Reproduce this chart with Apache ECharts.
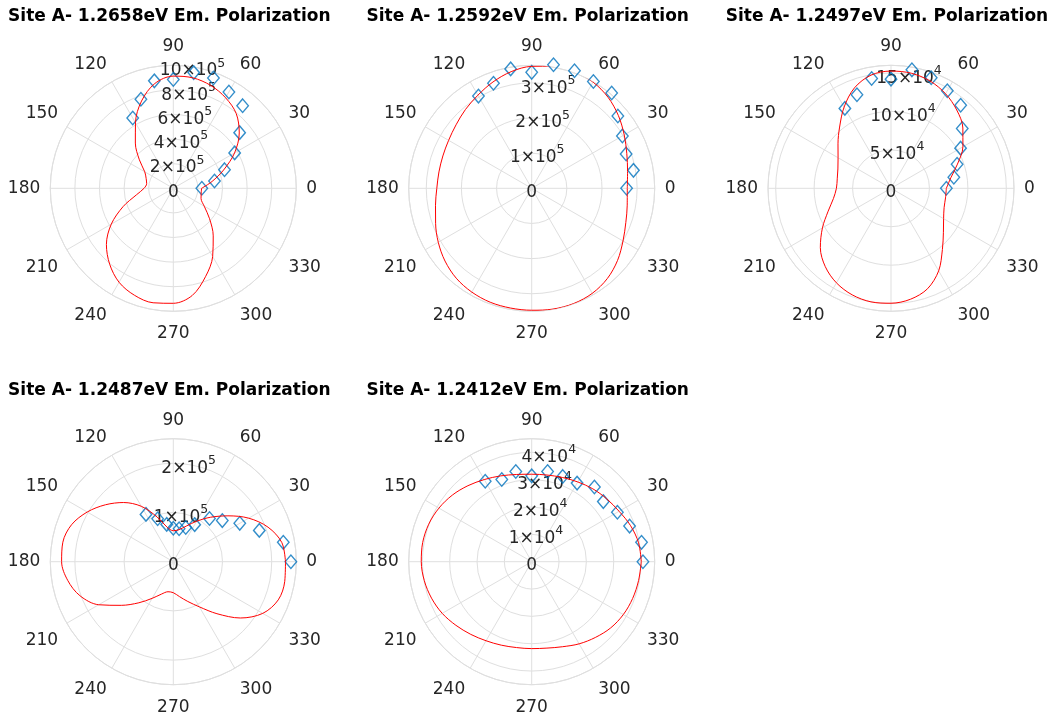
<!DOCTYPE html>
<html>
<head>
<meta charset="utf-8">
<script src="https://cdn.jsdelivr.net/npm/echarts@6/dist/echarts.min.js"></script>
<style>
  html, body { margin: 0; padding: 0; background: #ffffff; }
  #chart { width: 1055px; height: 717px; }
</style>
</head>
<body>
<div id="chart"></div>
<script>
// Polarizer angles (degrees) of the measured points and of the fitted curve
const markerAngles = [0, 10, 20, 30, 40, 50, 60, 70, 80, 90, 100, 110, 120];
const fitAngles = [0, 10, 20, 30, 40, 50, 60, 70, 80, 90, 100, 110, 120, 130, 140, 150, 160, 170, 180,
                   190, 200, 210, 220, 230, 240, 250, 260, 270, 280, 290, 300, 310, 320, 330, 340, 350, 360];
const angleTickLabels = ['0', '30', '60', '90', '120', '150', '180', '210', '240', '270', '300', '330'];

const titles = [
  'Site A- 1.2658eV Em. Polarization',
  'Site A- 1.2592eV Em. Polarization',
  'Site A- 1.2497eV Em. Polarization',
  'Site A- 1.2487eV Em. Polarization',
  'Site A- 1.2412eV Em. Polarization'
];

// 1.2658 eV
const meas1 = [2.32e5, 3.40e5, 4.43e5, 5.76e5, 7.04e5, 8.77e5, 9.04e5, 9.54e5, 9.55e5, 8.85e5, 8.87e5, 7.70e5, 6.60e5];
const fit1 = [2.30e5, 3.20e5, 4.35e5, 5.75e5, 7.00e5, 7.95e5, 8.50e5, 8.90e5, 9.12e5, 9.12e5, 8.65e5, 7.55e5, 6.15e5,
              4.80e5, 3.60e5, 2.68e5, 2.35e5, 2.20e5, 2.38e5, 3.04e5, 4.34e5, 5.82e5, 7.10e5, 8.05e5, 8.82e5,
              9.25e5, 9.45e5, 9.35e5, 8.85e5, 7.65e5, 6.40e5, 5.05e5, 3.85e5, 2.90e5, 2.40e5, 2.30e5, 2.30e5];
const rTicks1 = [0, 2e5, 4e5, 6e5, 8e5, 10e5];
const rTickLabels1 = ['0', '2×10^5', '4×10^5', '6×10^5', '8×10^5', '10×10^5'];
const rMax1 = 10e5;

// 1.2592 eV
const meas2 = [2.70e5, 2.94e5, 2.86e5, 2.98e5, 3.20e5, 3.54e5, 3.51e5, 3.56e5, 3.57e5, 3.30e5, 3.45e5, 3.18e5, 3.03e5];
const fit2 = [2.72e5, 2.77e5, 2.88e5, 3.04e5, 3.22e5, 3.38e5, 3.49e5, 3.54e5, 3.53e5, 3.47e5, 3.37e5, 3.22e5, 3.06e5,
              2.93e5, 2.81e5, 2.73e5, 2.69e5, 2.68e5, 2.70e5, 2.78e5, 2.91e5, 3.07e5, 3.22e5, 3.34e5, 3.41e5,
              3.45e5, 3.46e5, 3.47e5, 3.49e5, 3.49e5, 3.45e5, 3.35e5, 3.19e5, 3.00e5, 2.85e5, 2.76e5, 2.72e5];
const rTicks2 = [0, 1e5, 2e5, 3e5];
const rTickLabels2 = ['0', '1×10^5', '2×10^5', '3×10^5'];
const rMax2 = 3.5e5;

// 1.2497 eV
const meas3 = [7.20e4, 8.30e4, 9.15e4, 10.45e4, 12.10e4, 14.10e4, 14.65e4, 15.30e4, 15.65e4, 14.20e4, 14.50e4, 12.95e4, 12.00e4];
const fit3 = [7.20e4, 7.90e4, 9.20e4, 10.80e4, 12.20e4, 13.30e4, 14.20e4, 14.85e4, 15.20e4, 15.25e4, 14.95e4, 13.90e4, 12.20e4,
              10.40e4, 9.00e4, 7.95e4, 7.35e4, 7.10e4, 7.10e4, 7.60e4, 8.70e4, 10.30e4, 12.00e4, 13.30e4, 14.20e4,
              14.75e4, 15.00e4, 14.95e4, 14.65e4, 13.90e4, 12.40e4, 10.40e4, 8.90e4, 7.90e4, 7.35e4, 7.20e4, 7.20e4];
const rTicks3 = [0, 5e4, 10e4, 15e4];
const rTickLabels3 = ['0', '5×10^4', '10×10^4', '15×10^4'];
const rMax3 = 16e4;

// 1.2487 eV
const meas4 = [2.39e5, 2.27e5, 1.86e5, 1.56e5, 1.30e5, 1.145e5, 0.87e5, 0.74e5, 0.68e5, 0.68e5, 0.77e5, 0.93e5, 1.11e5];
const fit4 = [2.28e5, 2.24e5, 2.05e5, 1.77e5, 1.45e5, 1.18e5, 0.95e5, 0.77e5, 0.66e5, 0.63e5, 0.71e5, 0.97e5, 1.30e5,
              1.57e5, 1.80e5, 2.02e5, 2.20e5, 2.28e5, 2.27e5, 2.18e5, 2.02e5, 1.75e5, 1.38e5, 1.09e5, 0.86e5,
              0.70e5, 0.62e5, 0.63e5, 0.72e5, 0.86e5, 1.06e5, 1.38e5, 1.78e5, 2.10e5, 2.27e5, 2.30e5, 2.28e5];
const rTicks4 = [0, 1e5, 2e5];
const rTickLabels4 = ['0', '1×10^5', '2×10^5'];
const rMax4 = 2.5e5;

// 1.2412 eV
const meas5 = [4.07e4, 4.08e4, 3.81e4, 3.62e4, 3.42e4, 3.57e4, 3.32e4, 3.32e4, 3.35e4, 3.14e4, 3.35e4, 3.20e4, 3.40e4];
const fit5 = [4.01e4, 3.97e4, 3.85e4, 3.69e4, 3.58e4, 3.48e4, 3.37e4, 3.28e4, 3.22e4, 3.20e4, 3.24e4, 3.34e4, 3.47e4,
              3.63e4, 3.79e4, 3.92e4, 4.01e4, 4.05e4, 4.04e4, 3.99e4, 3.90e4, 3.78e4, 3.62e4, 3.47e4, 3.34e4,
              3.25e4, 3.19e4, 3.18e4, 3.21e4, 3.31e4, 3.47e4, 3.62e4, 3.77e4, 3.87e4, 3.93e4, 3.97e4, 4.01e4];
const rTicks5 = [0, 1e4, 2e4, 3e4, 4e4];
const rTickLabels5 = ['0', '1×10^4', '2×10^4', '3×10^4', '4×10^4'];
const rMax5 = 4.5e4;

// ---- layout and styling ----
const FONT = '"DejaVu Sans", Verdana, sans-serif';
const GRID = '#dfdfdf';
const INK = '#262626';
const RADIUS = 123;

const panels = [
  { title: titles[0], meas: meas1, fit: fit1, ticks: rTicks1, labels: rTickLabels1, max: rMax1, cx: 173.3, cy: 188.3, step: 2e5 },
  { title: titles[1], meas: meas2, fit: fit2, ticks: rTicks2, labels: rTickLabels2, max: rMax2, cx: 531.7, cy: 188.3, step: 1e5 },
  { title: titles[2], meas: meas3, fit: fit3, ticks: rTicks3, labels: rTickLabels3, max: rMax3, cx: 891.0, cy: 188.3, step: 5e4 },
  { title: titles[3], meas: meas4, fit: fit4, ticks: rTicks4, labels: rTickLabels4, max: rMax4, cx: 173.3, cy: 561.7, step: 1e5 },
  { title: titles[4], meas: meas5, fit: fit5, ticks: rTicks5, labels: rTickLabels5, max: rMax5, cx: 531.7, cy: 561.7, step: 1e4 }
];

// "2×10^5" -> rich text with a raised exponent
function radialFormatter(values, labels) {
  return function (v) {
    for (let i = 0; i < values.length; i++) {
      if (Math.abs(values[i] - v) <= 1e-6 * Math.max(1, Math.abs(values[i]))) {
        const parts = labels[i].split('^');
        return parts.length === 2 ? '{b|' + parts[0] + '}{s|' + parts[1] + '}' : '{b|' + parts[0] + '}';
      }
    }
    return '';
  };
}

function angleFormatter(v) {
  const i = angleTickLabels.indexOf(String(v));
  return i >= 0 ? angleTickLabels[i] : '';
}

const option = {
  backgroundColor: '#ffffff',
  animation: false,
  title: [], polar: [], angleAxis: [], radiusAxis: [], series: []
};

panels.forEach(function (p, k) {
  const main = 2 * k, lab = 2 * k + 1;
  option.title.push({
    text: p.title,
    left: p.cx - 4,
    top: p.cy - 180,
    textAlign: 'center',
    padding: 0,
    textStyle: { fontFamily: FONT, fontWeight: 'bold', fontSize: 17, color: '#000000' }
  });
  option.polar.push({ center: [p.cx, p.cy], radius: RADIUS });
  option.polar.push({ center: [p.cx, p.cy], radius: RADIUS });

  option.angleAxis.push({
    polarIndex: main, type: 'value', min: 0, max: 360, interval: 30,
    startAngle: 0, clockwise: false,
    axisLine: { show: true, lineStyle: { color: GRID, width: 1 } },
    axisTick: { show: false },
    splitLine: { show: true, lineStyle: { color: GRID, width: 1 } },
    axisLabel: { margin: 10, padding: [4, 0, 0, 0], fontFamily: FONT, fontSize: 17, color: INK, formatter: angleFormatter }
  });
  // second, invisible angle axis that tilts the radial tick labels to 81 degrees
  option.angleAxis.push({
    polarIndex: lab, type: 'value', min: 0, max: 360, startAngle: 81, clockwise: false, show: false
  });

  option.radiusAxis.push({
    polarIndex: main, type: 'value', min: 0, max: p.max, interval: p.step,
    axisLine: { show: false }, axisTick: { show: false }, axisLabel: { show: false },
    splitLine: { show: true, lineStyle: { color: GRID, width: 1 } }
  });
  option.radiusAxis.push({
    polarIndex: lab, type: 'value', min: 0, max: p.max, interval: p.step,
    axisLine: { show: false }, axisTick: { show: false }, splitLine: { show: false },
    axisLabel: {
      show: true, margin: 0, align: 'center', verticalAlign: 'middle', padding: [8, 0, 0, 0],
      formatter: radialFormatter(p.ticks, p.labels),
      rich: {
        b: { fontFamily: FONT, fontSize: 17, lineHeight: 28, color: INK },
        s: { fontFamily: FONT, fontSize: 12.5, lineHeight: 12, color: INK, verticalAlign: 'top' }
      }
    }
  });

  option.series.push({
    type: 'scatter', coordinateSystem: 'polar', polarIndex: main, clip: false, silent: true,
    symbol: 'diamond', symbolSize: [11.5, 13.5],
    itemStyle: { color: 'rgba(0,0,0,0)', borderColor: '#0072BD', borderWidth: 1.4 },
    data: markerAngles.map(function (a, i) { return [p.meas[i], a]; })
  });
  option.series.push({
    type: 'line', coordinateSystem: 'polar', polarIndex: main, clip: false, silent: true,
    smooth: 0.33, showSymbol: false, symbol: 'none',
    lineStyle: { color: '#ff0000', width: 1 },
    data: fitAngles.map(function (a, i) { return [p.fit[i], a]; })
  });
});

const chart = echarts.init(document.getElementById('chart'), null, { renderer: 'canvas' });
chart.setOption(option);
</script>
</body>
</html>
